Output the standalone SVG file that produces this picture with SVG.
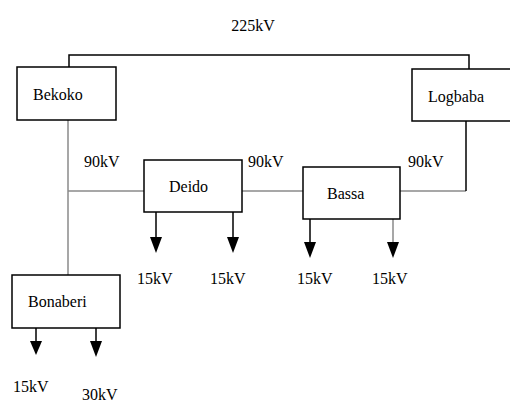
<svg xmlns="http://www.w3.org/2000/svg" width="510" height="405" viewBox="0 0 510 405">
<style>
.box{fill:#fff;stroke:#000;stroke-width:1.5}
.blk{stroke:#000;stroke-width:1.5;fill:none}
.gry{stroke:#8a8a8a;stroke-width:1.5;fill:none}
.t{font-family:'Liberation Serif','Times New Roman','DejaVu Serif',serif;font-size:16px;fill:#000}
</style>
<text class="t" x="253" y="31" text-anchor="middle">225kV</text>
<g id="connectors">
<path class="blk" d="M69,67 V55 H469 V69"/>
<path class="gry" d="M68,120 V275"/>
<path class="gry" d="M68,191 H144"/>
<path class="gry" d="M242,191 H303"/>
<path class="gry" d="M400,191 H466"/>
<path class="blk" d="M466,121 V191"/>
<line class="blk" x1="156" y1="212" x2="156" y2="237"/>
<path d="M150,237 L162,237 L156,253 Z"/>
<line class="blk" x1="233" y1="212" x2="233" y2="237"/>
<path d="M227,237 L239,237 L233,253 Z"/>
<line class="blk" x1="310" y1="219" x2="310" y2="242"/>
<path d="M304,242 L316,242 L310,258 Z"/>
<line class="gry" x1="393" y1="219" x2="393" y2="242"/>
<path d="M387,242 L399,242 L393,258 Z"/>
<line class="blk" x1="36" y1="328" x2="36" y2="341"/>
<path d="M30,341 L42,341 L36,355 Z"/>
<line class="blk" x1="96" y1="328" x2="96" y2="341"/>
<path d="M90,341 L102,341 L96,357 Z"/>
</g>
<g id="bekoko"><rect class="box" x="17" y="67" width="99" height="53"/><text class="t" x="33" y="100">Bekoko</text></g>
<g id="logbaba"><rect class="box" x="412" y="69" width="100" height="52"/><text class="t" x="428" y="102">Logbaba</text></g>
<g id="deido"><rect class="box" x="144" y="160" width="98" height="52"/><text class="t" x="169" y="192">Deido</text></g>
<g id="bassa"><rect class="box" x="303" y="167" width="97" height="52"/><text class="t" x="327" y="199">Bassa</text></g>
<g id="bonaberi"><rect class="box" x="12" y="275" width="108" height="53"/><text class="t" x="28" y="307">Bonaberi</text></g>
<g id="labels">
<text class="t" x="84" y="167">90kV</text>
<text class="t" x="248" y="167">90kV</text>
<text class="t" x="408" y="167">90kV</text>
<text class="t" x="137" y="284">15kV</text>
<text class="t" x="210" y="284">15kV</text>
<text class="t" x="297" y="284">15kV</text>
<text class="t" x="372" y="284">15kV</text>
<text class="t" x="13" y="392">15kV</text>
<text class="t" x="82" y="400">30kV</text>
</g>
</svg>
